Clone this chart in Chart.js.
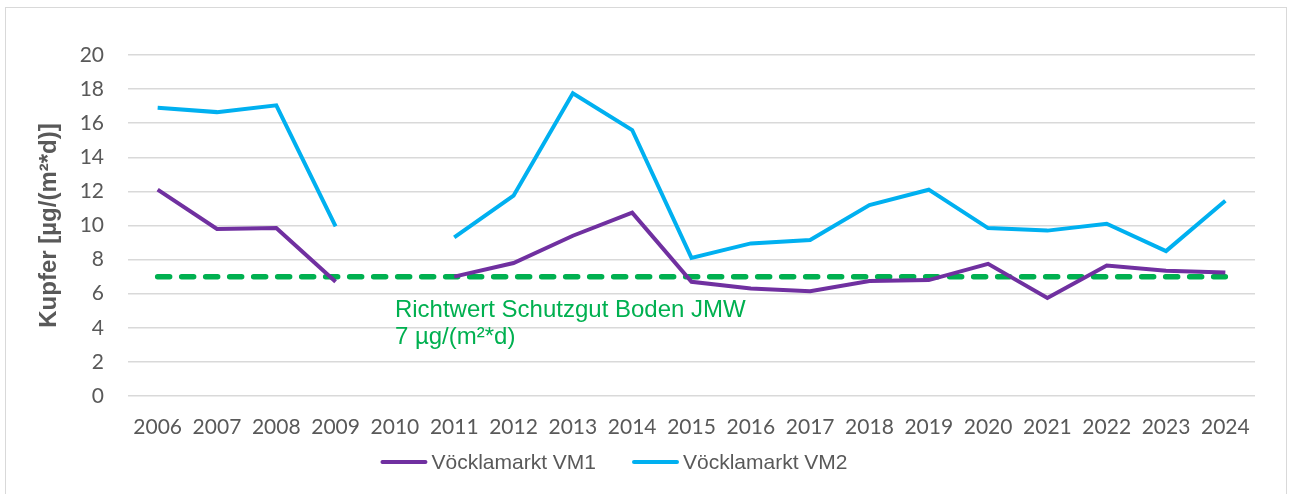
<!DOCTYPE html>
<html>
<head>
<meta charset="utf-8">
<script src="https://cdn.jsdelivr.net/npm/chart.js@4.4.1/dist/chart.umd.min.js"></script>
<style>
  html, body { margin: 0; padding: 0; background: #fff; }
  #wrap { position: relative; width: 1292px; height: 494px; overflow: hidden; }
  #frame { position: absolute; left: 5px; top: 7px; width: 1282px; height: 500px;
           border: 1px solid #d9d9d9; box-sizing: border-box; }
  canvas { position: absolute; left: 0; top: 0; }
</style>
</head>
<body>
<div id="wrap">
  <div id="frame"></div>
  <canvas id="chart" width="1292" height="494"></canvas>
</div>
<script>
// ── Data ────────────────────────────────────────────────
const years = ["2006", "2007", "2008", "2009", "2010", "2011", "2012", "2013", "2014", "2015",
               "2016", "2017", "2018", "2019", "2020", "2021", "2022", "2023", "2024"];
const vm1 = [12.1, 9.8, 9.85, 6.7, null, 7.0, 7.8, 9.4, 10.75, 6.7,
             6.3, 6.15, 6.75, 6.8, 7.75, 5.75, 7.65, 7.35, 7.25];
const vm2 = [16.9, 16.65, 17.05, 9.95, null, 9.3, 11.75, 17.75, 15.6, 8.1,
             8.95, 9.15, 11.2, 12.1, 9.85, 9.7, 10.1, 8.5, 11.45];
const richtwert = years.map(() => 7);
const richtwertText = ["Richtwert Schutzgut Boden JMW", "7 µg/(m²*d)"];
const yTicks = [0, 2, 4, 6, 8, 10, 12, 14, 16, 18, 20];

const GREY  = "#595959";
const GRID  = "#d9d9d9";
const GREEN = "#00B050";

// ── Plugins ─────────────────────────────────────────────
const annotationText = {
  id: "annotationText",
  afterDatasetsDraw(chart) {
    const { ctx, scales: { x, y } } = chart;
    ctx.save();
    ctx.fillStyle = GREEN;
    ctx.font = "24px 'Liberation Sans', Arial, sans-serif";
    ctx.textAlign = "left";
    ctx.textBaseline = "middle";
    const left = x.getPixelForValue(4);
    const top = y.getPixelForValue(5.05);
    richtwertText.forEach((t, i) => ctx.fillText(t, left, top + i * 27));
    ctx.restore();
  }
};

const bottomLegend = {
  id: "bottomLegend",
  afterDraw(chart) {
    const { ctx } = chart;
    const items = chart.data.datasets.filter(d => !d.hideInLegend);
    ctx.save();
    ctx.font = "21px 'Liberation Sans', Arial, sans-serif";
    ctx.textBaseline = "middle";
    const lineLen = 47, gap = 4, spacing = 36;
    const widths = items.map(d => lineLen + gap + ctx.measureText(d.label).width);
    const total = widths.reduce((a, b) => a + b, 0) + spacing * (items.length - 1);
    let xPos = 614 - total / 2;
    const yPos = 462;
    items.forEach((d, i) => {
      ctx.strokeStyle = d.borderColor;
      ctx.lineWidth = 4;
      ctx.lineCap = "round";
      ctx.beginPath();
      ctx.moveTo(xPos + 2, yPos);
      ctx.lineTo(xPos + lineLen - 2, yPos);
      ctx.stroke();
      ctx.fillStyle = GREY;
      ctx.fillText(d.label, xPos + lineLen + gap, yPos + 1);
      xPos += widths[i] + spacing;
    });
    ctx.restore();
  }
};

// ── Chart ───────────────────────────────────────────────
new Chart(document.getElementById("chart").getContext("2d"), {
  type: "line",
  data: {
    labels: years,
    datasets: [
      {
        label: "Richtwert",
        data: richtwert,
        borderColor: GREEN,
        borderWidth: 5.5,
        borderDash: [12, 12],
        borderCapStyle: "round",
        pointRadius: 0,
        hideInLegend: true,
        order: 3
      },
      {
        label: "Vöcklamarkt VM1",
        data: vm1,
        borderColor: "#7030A0",
        backgroundColor: "#7030A0",
        borderWidth: 4,
        pointRadius: 0,
        spanGaps: false,
        order: 2
      },
      {
        label: "Vöcklamarkt VM2",
        data: vm2,
        borderColor: "#00B0F0",
        backgroundColor: "#00B0F0",
        borderWidth: 4,
        pointRadius: 0,
        spanGaps: false,
        order: 1
      }
    ]
  },
  options: {
    responsive: false,
    animation: false,
    layout: { padding: { top: 55, right: 37, bottom: 0, left: 0 } },
    plugins: {
      legend: { display: false },
      tooltip: { enabled: false }
    },
    scales: {
      x: {
        offset: true,
        grid: { display: false, drawTicks: false },
        border: { display: false },
        ticks: {
          color: GREY,
          padding: 19,
          maxRotation: 0,
          autoSkip: false,
          font: { family: "Lato", size: 21 }
        },
        afterFit: (s) => { s.height = 98; }
      },
      y: {
        min: 0,
        max: 20,
        afterBuildTicks: (s) => { s.ticks = yTicks.map(v => ({ value: v })); },
        grid: { color: GRID, lineWidth: 1.5, drawTicks: false },
        border: { display: false },
        ticks: {
          color: GREY,
          padding: 24,
          font: { family: "Lato", size: 21 }
        },
        title: {
          display: true,
          text: "Kupfer [µg/(m²*d)]",
          color: GREY,
          padding: { top: 35, bottom: 0 },
          font: { family: "'Liberation Sans', Arial, sans-serif", size: 24, weight: "bold" }
        },
        afterFit: (s) => { s.width = 128; }
      }
    }
  },
  plugins: [annotationText, bottomLegend]
});
</script>
</body>
</html>
